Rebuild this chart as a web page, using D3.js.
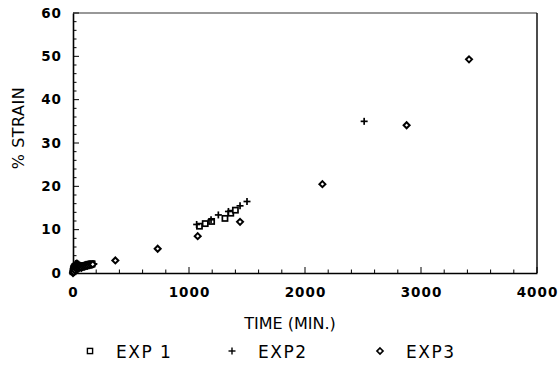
<!DOCTYPE html>
<html><head><meta charset="utf-8">
<script src="https://cdn.jsdelivr.net/npm/d3@7"></script>
<style>body{margin:0;background:#fff;} svg{display:block;}</style>
</head><body>
<svg id="c" width="559" height="380"></svg>
<script>
const xTicks = [0, 1000, 2000, 3000, 4000];
const yTicks = [0, 10, 20, 30, 40, 50, 60];
const seriesNames = ["EXP1", "EXP2", "EXP3"];
const exp1Time = [0, 3, 6, 10, 15, 20, 28, 36, 45, 55, 65, 75, 85, 95, 105, 115, 125, 135, 145, 155, 165, 1090, 1140, 1195, 1310, 1360, 1400];
const exp1Strain = [0.3, 0.7, 1.0, 1.2, 1.4, 1.5, 1.6, 1.5, 1.4, 1.3, 1.4, 1.5, 1.6, 1.7, 1.7, 1.8, 1.9, 2.0, 2.0, 2.1, 2.1, 10.8, 11.4, 11.9, 12.6, 13.8, 14.5];
const exp2Time = [0, 2, 5, 8, 12, 18, 25, 32, 40, 50, 60, 70, 80, 90, 100, 110, 120, 130, 140, 150, 160, 170, 180, 1066, 1190, 1253, 1340, 1440, 1500, 2510];
const exp2Strain = [0.1, 0.5, 0.9, 1.3, 1.7, 2.0, 2.2, 2.3, 2.2, 2.0, 1.8, 1.7, 1.6, 1.5, 1.5, 1.6, 1.6, 1.7, 1.8, 1.9, 1.9, 2.0, 2.1, 11.2, 12.3, 13.4, 14.2, 15.5, 16.5, 35.0];
const exp3Time = [0, 4, 8, 12, 18, 24, 30, 40, 50, 60, 72, 85, 98, 110, 125, 140, 155, 170, 365, 730, 1075, 1440, 2150, 2876, 3414];
const exp3Strain = [0.0, 0.4, 0.2, 0.8, 0.6, 1.1, 1.0, 1.2, 1.1, 1.3, 1.2, 1.4, 1.5, 1.6, 1.7, 1.8, 1.9, 2.0, 2.9, 5.6, 8.5, 11.8, 20.5, 34.1, 49.3];

const svg = d3.select("#c");
const L = 73, R = 537, T = 13, B = 273;
const x = d3.scaleLinear().domain([0, 4000]).range([L, R]);
const y = d3.scaleLinear().domain([0, 60]).range([B, T]);
const font = "'DejaVu Sans', sans-serif";

// frame
svg.append("line").attr("x1", L).attr("x2", R).attr("y1", T).attr("y2", T).attr("stroke", "#333").attr("stroke-width", 1.2);
svg.append("line").attr("x1", R).attr("x2", R).attr("y1", T).attr("y2", B).attr("stroke", "#111").attr("stroke-width", 1.5);

// x axis
const xAxis = d3.axisBottom(x).tickValues(xTicks).tickSize(0).tickPadding(14).tickFormat(d3.format("d"));
const gx = svg.append("g").attr("transform", `translate(0,${B})`).call(xAxis);
gx.select(".domain").attr("stroke", "#000").attr("stroke-width", 1.6);
gx.selectAll("text").attr("font-family", font).attr("font-size", 13.5).attr("font-weight", "bold").attr("letter-spacing", "1px").attr("fill", "#000");
const xMinor = d3.range(0, 4001, 200);
gx.selectAll(".mt").data(xMinor).enter().append("line")
  .attr("x1", d => x(d)).attr("x2", d => x(d)).attr("y1", 0).attr("y2", d => d % 1000 === 0 ? -6 : -3.5)
  .attr("stroke", "#000").attr("stroke-width", 1);

// y axis
const yAxis = d3.axisLeft(y).tickValues(yTicks).tickSize(0).tickPadding(11);
const gy = svg.append("g").attr("transform", `translate(${L},0)`).call(yAxis);
gy.select(".domain").attr("stroke", "#000").attr("stroke-width", 1.6);
gy.selectAll("text").attr("font-family", font).attr("font-size", 13.5).attr("font-weight", "bold").attr("letter-spacing", "1px").attr("fill", "#000");
const yMinor = d3.range(0, 61, 2);
gy.selectAll(".mt").data(yMinor).enter().append("line")
  .attr("y1", d => y(d)).attr("y2", d => y(d)).attr("x1", 0).attr("x2", d => d % 10 === 0 ? 6 : 3.5)
  .attr("stroke", "#000").attr("stroke-width", 1);

// titles
svg.append("text").attr("x", 290).attr("y", 329).attr("text-anchor", "middle")
  .attr("font-family", font).attr("font-size", 16).attr("fill", "#000").text("TIME  (MIN.)");
svg.append("text").attr("transform", "translate(24,128) rotate(-90)").attr("text-anchor", "middle")
  .attr("font-family", font).attr("font-size", 16).attr("letter-spacing", "0.5px").attr("fill", "#000").text("%  STRAIN");

// markers
function pts(t, s) { return t.map((v, i) => ({ t: v, s: s[i] })); }
const data = [
  { name: "EXP1", pts: pts(exp1Time, exp1Strain) },
  { name: "EXP2", pts: pts(exp2Time, exp2Strain) },
  { name: "EXP3", pts: pts(exp3Time, exp3Strain) }
];
function drawMarker(g, name, cx, cy, sw) {
  if (name === "EXP1") {
    g.append("rect").attr("x", cx - 2.6).attr("y", cy - 2.6).attr("width", 5.2).attr("height", 5.2)
      .attr("fill", "#fff").attr("stroke", "#000").attr("stroke-width", sw);
  } else if (name === "EXP2") {
    g.append("line").attr("x1", cx - 3.5).attr("x2", cx + 3.5).attr("y1", cy).attr("y2", cy).attr("stroke", "#000").attr("stroke-width", sw);
    g.append("line").attr("x1", cx).attr("x2", cx).attr("y1", cy - 3.5).attr("y2", cy + 3.5).attr("stroke", "#000").attr("stroke-width", sw);
  } else {
    g.append("path").attr("d", `M${cx},${cy - 3}L${cx + 3},${cy}L${cx},${cy + 3}L${cx - 3},${cy}Z`)
      .attr("fill", "#fff").attr("stroke", "#000").attr("stroke-width", sw + 0.3);
  }
}
const mg = svg.append("g");
data.forEach(ser => {
  ser.pts.forEach(p => drawMarker(mg, ser.name, x(p.t), y(p.s), 1.7));
});

// legend
const legX = [90, 232, 380];
const leg = svg.append("g");
seriesNames.forEach((n, i) => {
  const cx = legX[i], cy = 351;
  drawMarker(leg, n, cx, cy, 1.4);
  leg.append("text").attr("x", cx + 26).attr("y", cy + 6.5).attr("font-family", font).attr("font-size", 17)
    .attr("fill", "#000").attr("letter-spacing", "1.5px").text(n.replace("EXP1", "EXP 1"));
});
</script>
</body></html>
